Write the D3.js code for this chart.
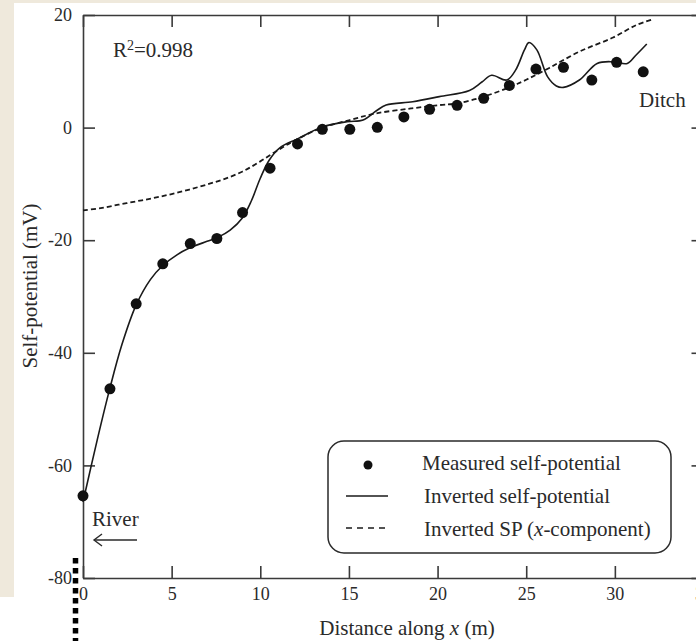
<!DOCTYPE html>
<html>
<head>
<meta charset="utf-8">
<script src="https://cdn.jsdelivr.net/npm/d3@7"></script>
<style>
  html, body { margin: 0; padding: 0; background: #ffffff; }
  svg { display: block; }
  text { font-family: "Liberation Serif", "DejaVu Serif", serif; fill: #2a2a2a; }
</style>
</head>
<body>
<svg id="chart" width="696" height="641"></svg>
<script>
// ---- data ----
const xTicks = [0, 5, 10, 15, 20, 25, 30, 35];
const yTicks = [-80, -60, -40, -20, 0, 20];

const measuredX = [0, 1.52, 3.0, 4.5, 6.05, 7.55, 9.0, 10.55, 12.1, 13.5, 15.05, 16.6, 18.1, 19.55, 21.1, 22.6, 24.05, 25.55, 27.1, 28.7, 30.1, 31.6];
const measuredY = [-65.4, -46.4, -31.3, -24.2, -20.6, -19.7, -15.1, -7.2, -2.9, -0.3, -0.3, 0.05, 1.9, 3.25, 3.95, 5.2, 7.5, 10.4, 10.7, 8.45, 11.6, 9.9];

const invertedX = [0, 0.8, 1.5, 2.2, 3.0, 3.8, 4.5, 5.3, 6.0, 7.0, 7.6, 8.3, 9.0, 9.5, 10.0, 10.5, 11.1, 12.1, 13.5, 14.9, 15.8, 16.55, 17.1, 18.6, 20.1, 21.8, 22.5, 23.05, 23.9, 24.4, 24.9, 25.15, 25.6, 26.2, 26.7, 27.1, 28.0, 29.0, 29.9, 30.7, 31.2, 31.8];
const invertedY = [-66.5, -55.5, -46.5, -38.5, -31.5, -27.0, -24.5, -22.6, -21.4, -20.2, -19.5, -18.2, -16.0, -13.0, -9.0, -5.8, -3.6, -2.0, 0.1, 1.05, 1.35, 3.0, 4.0, 4.6, 5.5, 6.6, 8.1, 9.3, 8.45, 10.2, 13.8, 15.1, 13.8, 9.05, 7.4, 7.15, 8.45, 11.4, 11.7, 11.4, 12.9, 14.85];

const spX = [0, 1, 2, 3, 4, 5, 6, 7, 8, 9, 10, 11, 12, 13.5, 15, 16.5, 18.5, 20.1, 21.1, 22.6, 24.0, 25.0, 26.3, 28.0, 29.9, 31.2, 32.1];
const spY = [-14.7, -14.3, -13.7, -13.1, -12.5, -11.8, -11.0, -10.1, -9.1, -7.8, -6.0, -4.0, -2.2, 0.0, 1.3, 2.5, 3.4, 4.0, 4.3, 5.5, 7.1, 8.5, 10.6, 13.5, 16.0, 18.2, 19.2];

const legendLabels = ["Measured self-potential", "Inverted self-potential", "Inverted SP ("];

// ---- layout ----
const svg = d3.select("#chart");
const plotLeft = 83, plotRight = 703.5, plotTop = 15, plotBottom = 578;
const x = d3.scaleLinear().domain([0, 35]).range([plotLeft, plotRight]);
const y = d3.scaleLinear().domain([-80, 20]).range([plotBottom, plotTop]);

// beige page background pieces
svg.append("rect").attr("x", 0).attr("y", 0).attr("width", 696).attr("height", 3).attr("fill", "#efe9dc");
svg.append("rect").attr("x", 0).attr("y", 0).attr("width", 14).attr("height", 597).attr("fill", "#efe9dc");

const fmt = d => String(d);
const axisColor = "#3a3a3a";

function styleAxis(g) {
  g.select(".domain").attr("stroke", axisColor).attr("stroke-width", 1.6);
  g.selectAll(".tick line").attr("stroke", axisColor).attr("stroke-width", 1.6);
  g.selectAll(".tick text").attr("font-family", "Liberation Serif").attr("font-size", 18).attr("fill", "#3a3a3a");
}

svg.append("g").attr("transform", `translate(0,${plotBottom})`)
  .call(d3.axisBottom(x).tickValues(xTicks).tickFormat(fmt).tickSizeInner(-12).tickSizeOuter(0).tickPadding(9))
  .call(styleAxis);
svg.append("g").attr("transform", `translate(0,${plotTop})`)
  .call(d3.axisTop(x).tickValues(xTicks).tickFormat("").tickSizeInner(-12).tickSizeOuter(0))
  .call(styleAxis);
svg.append("g").attr("transform", `translate(${plotLeft},0)`)
  .call(d3.axisLeft(y).tickValues(yTicks).tickFormat(fmt).tickSizeInner(-12).tickSizeOuter(0).tickPadding(11))
  .call(styleAxis);
svg.append("g").attr("transform", `translate(${plotRight},0)`)
  .call(d3.axisRight(y).tickValues(yTicks).tickFormat("").tickSizeInner(-12).tickSizeOuter(0))
  .call(styleAxis);

// curves
const spData = spX.map((v, i) => [v, spY[i]]);
const invData = invertedX.map((v, i) => [v, invertedY[i]]);
const measData = measuredX.map((v, i) => [v, measuredY[i]]);
const line = d3.line().x(d => x(d[0])).y(d => y(d[1])).curve(d3.curveCatmullRom.alpha(0.5));

svg.append("path").datum(spData).attr("d", line)
  .attr("fill", "none").attr("stroke", "#1a1a1a").attr("stroke-width", 1.8).attr("stroke-dasharray", "5,3");
svg.append("path").datum(invData).attr("d", line)
  .attr("fill", "none").attr("stroke", "#1a1a1a").attr("stroke-width", 1.6);
svg.append("g").selectAll("circle").data(measData).join("circle")
  .attr("cx", d => x(d[0])).attr("cy", d => y(d[1])).attr("r", 5.5).attr("fill", "#111");

// annotations
const r2 = svg.append("text").attr("x", 113).attr("y", 57).attr("font-size", 21);
r2.append("tspan").text("R");
r2.append("tspan").attr("font-size", 14).attr("dy", -7).text("2");
r2.append("tspan").attr("dy", 7).text("=0.998");

svg.append("text").attr("x", 639).attr("y", 107).attr("font-size", 21).text("Ditch");
svg.append("text").attr("x", 92).attr("y", 526).attr("font-size", 21).text("River");
svg.append("line").attr("x1", 94).attr("x2", 137).attr("y1", 540).attr("y2", 540).attr("stroke", "#2a2a2a").attr("stroke-width", 1.4);
svg.append("path").attr("d", "M102,534 L94,540 L102,546").attr("fill", "none").attr("stroke", "#2a2a2a").attr("stroke-width", 1.4);

// axis titles
const xt = svg.append("text").attr("x", 407).attr("y", 635).attr("text-anchor", "middle").attr("font-size", 21);
xt.append("tspan").text("Distance along ");
xt.append("tspan").attr("font-style", "italic").text("x");
xt.append("tspan").text(" (m)");

svg.append("text").attr("transform", "translate(37,286) rotate(-90)").attr("text-anchor", "middle")
  .attr("font-size", 21).text("Self-potential (mV)");

// legend
svg.append("rect").attr("x", 328).attr("y", 441).attr("width", 343).attr("height", 112).attr("rx", 16)
  .attr("fill", "#fff").attr("stroke", "#2a2a2a").attr("stroke-width", 1.5);
svg.append("circle").attr("cx", 368).attr("cy", 465).attr("r", 4.5).attr("fill", "#111");
svg.append("line").attr("x1", 346).attr("x2", 388).attr("y1", 496).attr("y2", 496).attr("stroke", "#1a1a1a").attr("stroke-width", 1.6);
svg.append("line").attr("x1", 346).attr("x2", 389).attr("y1", 528).attr("y2", 528).attr("stroke", "#1a1a1a").attr("stroke-width", 1.6).attr("stroke-dasharray", "6,5");
svg.append("text").attr("x", 422).attr("y", 470).attr("font-size", 21).text(legendLabels[0]);
svg.append("text").attr("x", 424).attr("y", 503).attr("font-size", 21).text(legendLabels[1]);
const l3 = svg.append("text").attr("x", 424).attr("y", 536).attr("font-size", 21);
l3.append("tspan").text(legendLabels[2]);
l3.append("tspan").attr("font-style", "italic").text("x");
l3.append("tspan").text("-component)");

// dotted vertical marker at bottom left
svg.append("line").attr("x1", 75.5).attr("x2", 75.5).attr("y1", 558).attr("y2", 641)
  .attr("stroke", "#000").attr("stroke-width", 5.5).attr("stroke-dasharray", "5.5,4.5");
</script>
</body>
</html>
